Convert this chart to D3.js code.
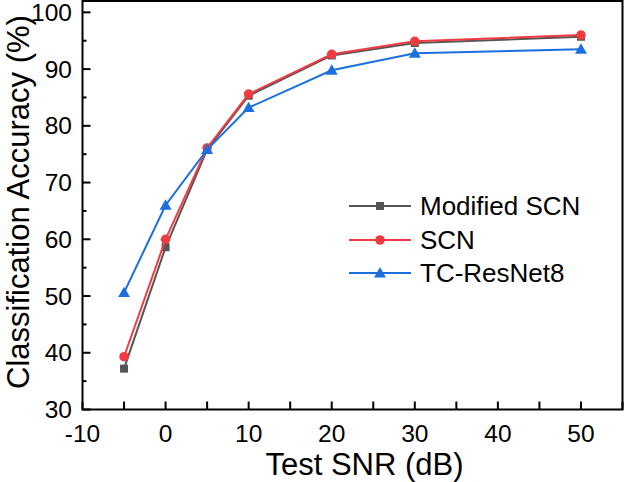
<!DOCTYPE html>
<html><head><meta charset="utf-8">
<script src="https://cdn.jsdelivr.net/npm/d3@7"></script>
<style>body{margin:0;background:#fff}svg{display:block}</style>
</head><body>
<svg id="c" width="624" height="482"></svg>
<script>
const snr = [-5, 0, 5, 10, 20, 30, 50];
const modifiedSCN = [37.2, 58.6, 75.8, 85.3, 92.4, 94.6, 95.7];
const scn = [39.3, 60.0, 76.1, 85.6, 92.6, 94.9, 96.0];
const tcResNet8 = [50.6, 66.0, 75.8, 83.2, 89.8, 92.8, 93.5];
const seriesNames = ["Modified SCN", "SCN", "TC-ResNet8"];
const xTicks = [-10, 0, 10, 20, 30, 40, 50];
const xTickLabels = ["-10", "0", "10", "20", "30", "40", "50"];
const yTicks = [30, 40, 50, 60, 70, 80, 90, 100];
const xTitle = "Test SNR (dB)";
const yTitle = "Classification Accuracy (%)";

const colors = ["#555555", "#f03c40", "#1b6fde"];
const symbols = [d3.symbolSquare, d3.symbolCircle, d3.symbolTriangle];
const symSizes = [64, 72, 62];
const series = [modifiedSCN, scn, tcResNet8];

const L = 82.5, R = 622.5, T = 1, B = 409.5;
const svg = d3.select("#c");
const font = "'Liberation Sans', Arial, sans-serif";
const x = d3.scaleLinear().domain([-10, 55]).range([L, R]);
const y = d3.scaleLinear().domain([30, 102]).range([B, T]);

// frame
svg.append("rect").attr("x", L).attr("y", T).attr("width", R - L).attr("height", B - T)
  .attr("fill", "none").attr("stroke", "#000").attr("stroke-width", 2);

// x axis ticks (inward)
const xAll = d3.range(-10, 55.1, 5);
svg.append("g").selectAll("line").data(xAll).join("line")
  .attr("x1", d => x(d)).attr("x2", d => x(d)).attr("y1", B).attr("y2", B - 8)
  .attr("stroke", "#000").attr("stroke-width", 2);
svg.append("g").selectAll("text").data(xTicks).join("text")
  .attr("x", d => x(d)).attr("y", 442).attr("text-anchor", "middle")
  .attr("font-family", font).attr("font-size", 24.5)
  .text((d, i) => xTickLabels[i]);

// y axis ticks
const yMinor = d3.range(35, 101, 10);
svg.append("g").selectAll("line").data(yTicks).join("line")
  .attr("x1", L).attr("x2", L + 8).attr("y1", d => y(d)).attr("y2", d => y(d))
  .attr("stroke", "#000").attr("stroke-width", 2);
svg.append("g").selectAll("line").data(yMinor).join("line")
  .attr("x1", L).attr("x2", L + 4).attr("y1", d => y(d)).attr("y2", d => y(d))
  .attr("stroke", "#000").attr("stroke-width", 2);
svg.append("g").selectAll("text").data(yTicks).join("text")
  .attr("x", 72).attr("y", d => y(d)).attr("dy", "0.35em").attr("text-anchor", "end")
  .attr("font-family", font).attr("font-size", 24.5)
  .text(d => d);

// titles
svg.append("text").attr("x", 364.5).attr("y", 475).attr("text-anchor", "middle")
  .attr("font-family", font).attr("font-size", 31).text(xTitle);
svg.append("text").attr("transform", "translate(28.5,202) rotate(-90)").attr("text-anchor", "middle")
  .attr("font-family", font).attr("font-size", 31).text(yTitle);

// series
const line = d3.line().x((d, i) => x(snr[i])).y(d => y(d));
series.forEach((vals, s) => {
  const g = svg.append("g");
  g.append("path").datum(vals).attr("d", line).attr("fill", "none")
    .attr("stroke", colors[s]).attr("stroke-width", 2);
  g.selectAll("path.m").data(vals).join("path").attr("class", "m")
    .attr("transform", (d, i) => `translate(${x(snr[i])},${y(d) + (s === 2 ? 1 : 0)})`)
    .attr("d", d3.symbol().type(symbols[s]).size(symSizes[s]))
    .attr("fill", colors[s]);
});

// legend
const legY = [206, 240, 273];
seriesNames.forEach((name, s) => {
  const g = svg.append("g");
  g.append("line").attr("x1", 349).attr("x2", 411).attr("y1", legY[s]).attr("y2", legY[s])
    .attr("stroke", colors[s]).attr("stroke-width", 2);
  g.append("path").attr("transform", `translate(380,${legY[s] + (s === 2 ? 1 : 0)})`)
    .attr("d", d3.symbol().type(symbols[s]).size(symSizes[s])).attr("fill", colors[s]);
  g.append("text").attr("x", 420).attr("y", legY[s]).attr("dy", "0.36em")
    .attr("font-family", font).attr("font-size", 26).text(name);
});
</script>
</body></html>
